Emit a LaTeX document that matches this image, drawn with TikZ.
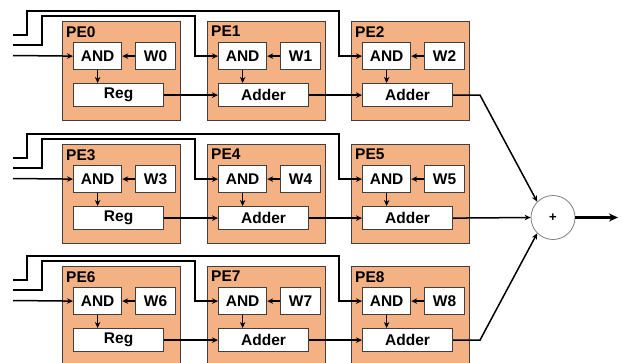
\documentclass[tikz,border=0pt]{standalone}
\usepackage{fontspec}
\setmainfont{Liberation Sans}
\usetikzlibrary{arrows.meta,calc}
\definecolor{peorange}{HTML}{F4B183}
\definecolor{edgegray}{HTML}{3F3F3F}
\definecolor{circgray}{HTML}{7F7F7F}
\begin{document}
\begin{tikzpicture}[x=1pt,y=-1pt,
  pebox/.style={draw=edgegray, fill=peorange, line width=1.2pt, rectangle, minimum width=118pt, minimum height=99pt, inner sep=0pt, anchor=north west},
  pelabel/.style={anchor=north west, inner sep=0pt, font=\fontsize{15.5}{17}\selectfont\bfseries},
  inbox/.style={draw=edgegray, fill=white, line width=1.2pt, rectangle, inner sep=0pt, anchor=north west, font=\fontsize{15.5}{17}\selectfont\bfseries},
  andbox/.style={inbox, minimum width=48pt, minimum height=27pt},
  wbox/.style={inbox, minimum width=40pt, minimum height=27pt},
  regbox/.style={inbox, minimum width=90pt, minimum height=23pt},
  conn/.style={draw=black, line width=1.5pt, -{Stealth[length=6pt,width=5.5pt]}},
  sumc/.style={circle, draw=circgray, line width=0.8pt, fill=white, minimum size=44pt, inner sep=0pt, font=\fontsize{13}{14}\selectfont\bfseries},
  outarr/.style={draw=black, line width=2.2pt, -{Stealth[length=9pt,width=8pt]}}
]
\useasboundingbox (0,0) rectangle (622,362);
\clip (0,0) rectangle (622,362);
\foreach \r/\T in {0/21,1/144,2/266} {
  \foreach \c/\L in {0/62,1/207,2/351} {
    \pgfmathtruncatemacro\n{3*\r+\c}
    \node[pebox] (pe\n) at (\L,\T) {};
    \node[pelabel] (lab\n) at (\L+4,\T+5) {PE\n};
    \node[andbox] (and\n) at (\L+11,\T+21) {AND};
    \node[wbox] (w\n) at (\L+73,\T+21) {W\n};
    \ifnum\c=0
      \node[regbox] (reg\n) at (\L+11,\T+62) {Reg};
    \else
      \node[regbox] (reg\n) at (\L+11,\T+62) {Adder};
    \fi
    \draw[conn] (w\n) -- (and\n);
    \draw[conn] (and\n.south) -- (and\n.south |- reg\n.north);
  }
}
% register chains
\foreach \a/\b in {0/1,1/2,3/4,4/5,6/7,7/8} {
  \draw[conn] (reg\a.east) -- (reg\b.west);
}
% input wires
\foreach \r/\T in {0/21,1/144,2/266} {
  \pgfmathtruncatemacro\na{3*\r}
  \pgfmathtruncatemacro\nb{3*\r+1}
  \pgfmathtruncatemacro\nc{3*\r+2}
  \coordinate (sa\r) at (13,\T+14);
  \coordinate (ta\r) at (27,\T-10);
  \coordinate (ua\r) at (339,\T-10);
  \coordinate (sb\r) at (13,\T+24);
  \coordinate (tb\r) at (42,\T-5);
  \coordinate (ub\r) at (195,\T-5);
  \coordinate (sc\r) at (13,\T+34.5);
  \draw[conn] (sa\r) -| (ta\r) -- (ua\r) |- (and\nc.west);
  \draw[conn] (sb\r) -| (tb\r) -- (ub\r) |- (and\nb.west);
  \draw[conn] (sc\r) -- (and\na.west);
}
% adder tree
\node[sumc] (sum) at (553,217.5) {+};
\coordinate (k0) at (480,0);
\draw[conn] (reg2.east) -- (reg2.east -| k0) -- (sum.135);
\draw[conn] (reg5.east) -- (sum.west);
\draw[conn] (reg8.east) -- (reg8.east -| k0) -- (sum.225);
\coordinate (out) at (618,217.5);
\draw[outarr] (sum.east) -- (out);
\end{tikzpicture}
\end{document}
